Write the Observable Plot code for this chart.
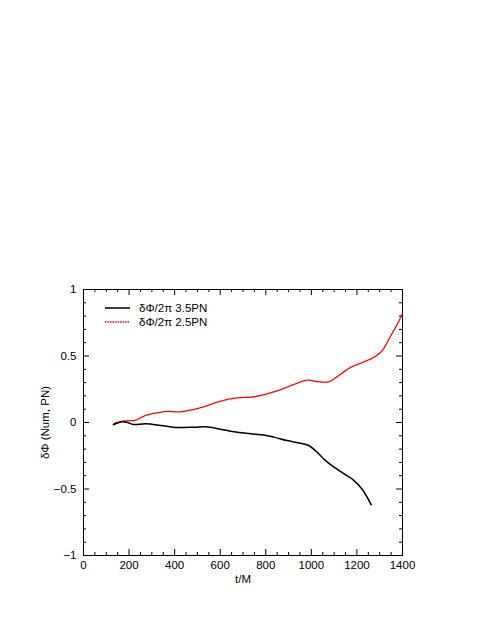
<!DOCTYPE html>
<html>
<head>
<meta charset="utf-8">
<script src="https://cdn.jsdelivr.net/npm/d3@7"></script>
<script src="https://cdn.jsdelivr.net/npm/@observablehq/plot@0.6"></script>
<style>
  html, body { margin: 0; padding: 0; background: #fff; }
  #wrap { position: relative; width: 485px; height: 627px; font-family: "Liberation Sans", Arial, Helvetica, sans-serif; }
  #legend { position: absolute; left: 104px; top: 301px; font-size: 11.5px; line-height: 14px; color: #000; }
  #legend div { display: flex; align-items: center; height: 14px; }
  #legend svg { margin-right: 8px; }
</style>
</head>
<body>
<div id="wrap"></div>
<script>
// Data
const t35 = [131, 171, 193, 219, 273, 339, 404, 485, 536, 601, 660, 733, 791, 835, 893, 952, 988, 1025, 1061, 1098, 1142, 1185, 1222, 1263];
const d35 = [-0.017, 0.005, 0, -0.015, -0.01, -0.022, -0.037, -0.035, -0.032, -0.05, -0.07, -0.084, -0.094, -0.11, -0.136, -0.156, -0.173, -0.223, -0.285, -0.334, -0.384, -0.433, -0.5, -0.619];
const t25 = [134, 171, 193, 229, 273, 324, 368, 419, 470, 528, 587, 645, 696, 747, 806, 864, 923, 981, 1025, 1076, 1112, 1171, 1222, 1273, 1310, 1346, 1375, 1400];
const d25 = [-0.008, 0.01, 0.013, 0.018, 0.053, 0.073, 0.083, 0.08, 0.093, 0.118, 0.153, 0.178, 0.188, 0.193, 0.216, 0.246, 0.286, 0.318, 0.308, 0.306, 0.343, 0.413, 0.45, 0.489, 0.539, 0.644, 0.732, 0.82];
const seriesNames = ["δΦ/2π 3.5PN", "δΦ/2π 2.5PN"];
const xMajor = [0, 200, 400, 600, 800, 1000, 1200, 1400];
const xMinor = d3.range(0, 1401, 50).filter(v => v % 200 !== 0);
const yMajor = [-1, -0.5, 0, 0.5, 1];
const yMinor = d3.range(-10, 11).map(v => v / 10).filter(v => Math.abs(v * 2 - Math.round(v * 2)) > 1e-9);

const W = 485, H = 627;
const mL = 83, mR = 83, mT = 289, mB = 72;
const fw = W - mL - mR, fh = H - mT - mB;
const major = 6, minor = 3;
const fmt = d => d < 0 ? "\u2212" + String(Math.abs(d)) : String(d);

const rows35 = t35.map((t, i) => ({t, v: d35[i]}));
const rows25 = t25.map((t, i) => ({t, v: d25[i]}));

const chart = Plot.plot({
  width: W, height: H,
  marginLeft: mL, marginRight: mR, marginTop: mT, marginBottom: mB,
  style: {fontFamily: '"Liberation Sans", Arial, Helvetica, sans-serif', fontSize: "11.5px", background: "#fff", color: "#000"},
  x: {domain: [0, 1400]},
  y: {domain: [-1, 1]},
  marks: [
    Plot.frame({stroke: "#000", strokeWidth: 1}),
    // inward ticks on all four sides
    Plot.tickX(xMajor, {x: d => d, insetTop: fh - major, stroke: "#000"}),
    Plot.tickX(xMajor, {x: d => d, insetBottom: fh - major, stroke: "#000"}),
    Plot.tickX(xMinor, {x: d => d, insetTop: fh - minor, stroke: "#000"}),
    Plot.tickX(xMinor, {x: d => d, insetBottom: fh - minor, stroke: "#000"}),
    Plot.tickY(yMajor, {y: d => d, insetRight: fw - major, stroke: "#000"}),
    Plot.tickY(yMajor, {y: d => d, insetLeft: fw - major, stroke: "#000"}),
    Plot.tickY(yMinor, {y: d => d, insetRight: fw - minor, stroke: "#000"}),
    Plot.tickY(yMinor, {y: d => d, insetLeft: fw - minor, stroke: "#000"}),
    Plot.axisX({ticks: xMajor, tickFormat: fmt, tickSize: 0, tickPadding: 5, label: "t/M", labelAnchor: "center", labelArrow: "none", labelOffset: 27, fontSize: 11.5}),
    Plot.axisY({ticks: yMajor, tickFormat: fmt, tickSize: 0, tickPadding: 7, label: "δΦ (Num, PN)", labelAnchor: "center", labelArrow: "none", labelOffset: 43, fontSize: 11.5}),
    Plot.line(rows25, {x: "t", y: "v", stroke: "#ff0000", strokeWidth: 1.3, strokeDasharray: "1.2,0.8", curve: "catmull-rom"}),
    Plot.line(rows35, {x: "t", y: "v", stroke: "#000", strokeWidth: 1.5, curve: "catmull-rom"})
  ]
});

const wrap = document.getElementById("wrap");
wrap.appendChild(chart);

const legend = document.createElement("div");
legend.id = "legend";
const styles = [{stroke: "#000", dash: "", w: 1.5}, {stroke: "#ff0000", dash: "1.5,1", w: 1.5}];
seriesNames.forEach((name, i) => {
  const row = document.createElement("div");
  row.innerHTML = `<svg width="27" height="6"><line x1="1" x2="26" y1="3" y2="3" stroke="${styles[i].stroke}" stroke-width="${styles[i].w}" ${styles[i].dash ? `stroke-dasharray="${styles[i].dash}"` : ""}/></svg><span>${name}</span>`;
  legend.appendChild(row);
});
wrap.appendChild(legend);
</script>
</body>
</html>
